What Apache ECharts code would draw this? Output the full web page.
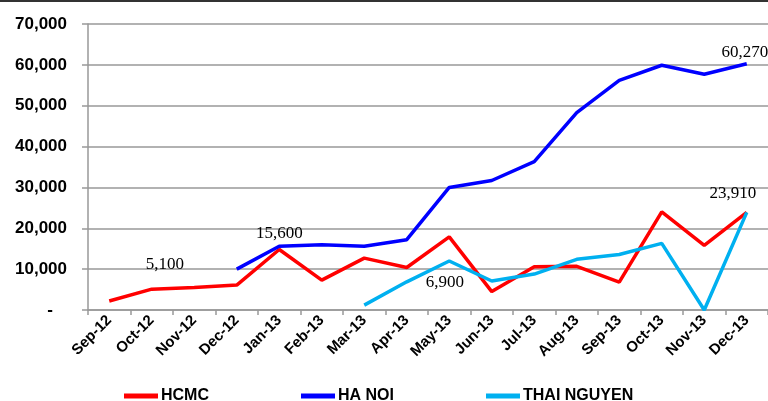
<!DOCTYPE html>
<html><head><meta charset="utf-8">
<script src="https://cdn.jsdelivr.net/npm/echarts@6/dist/echarts.min.js"></script>
<style>html,body{margin:0;padding:0;background:#fff}#c{width:768px;height:401px}</style>
</head><body><div id="c"></div>
<script>
const categories = ['Sep-12','Oct-12','Nov-12','Dec-12','Jan-13','Feb-13','Mar-13','Apr-13','May-13','Jun-13','Jul-13','Aug-13','Sep-13','Oct-13','Nov-13','Dec-13'];
const hcmc = [2200,5100,5500,6100,14800,7300,12700,10400,17900,4500,10600,10700,6800,24000,15800,23910];
const hanoi = [null,null,null,10000,15600,16000,15600,17200,30000,31700,36300,48300,56200,59900,57700,60270];
const thaiNguyen = [null,null,null,null,null,null,1200,6900,12000,7100,8800,12400,13600,16300,0,23900];
const seriesNames = ['HCMC','HA NOI','THAI NGUYEN'];

const labelFont = {fontFamily:'Liberation Serif', fontSize:17, color:'#000'};
function withLabels(values, labelled){
  return values.map((v,i)=>{
    if (labelled[i]) return {value:v, label:Object.assign({show:true, formatter:(p)=>Number(p.value).toLocaleString('en-US')}, labelFont, labelled[i])};
    return v;
  });
}
const legendText = {fontFamily:'Liberation Sans',fontWeight:'bold',fontSize:16,color:'#000'};
function legendAt(name,left){
  return {data:[name],left:left,top:388,padding:0,itemWidth:34,itemHeight:5,itemGap:0,icon:'rect',textStyle:Object.assign({padding:[0,0,0,-2]},legendText)};
}
const chart = echarts.init(document.getElementById('c'));
chart.setOption({
  animation:false,
  grid:{left:88,right:0,top:24,bottom:91},
  graphic:[{type:'rect',shape:{x:0,y:0,width:768,height:2},style:{fill:'#333'}}],
  legend:[legendAt(seriesNames[0],124),legendAt(seriesNames[1],301),legendAt(seriesNames[2],486)],
  xAxis:{
    type:'category',data:categories,boundaryGap:true,
    axisLine:{lineStyle:{color:'#999',width:1.5}},
    axisTick:{show:true,length:5,lineStyle:{color:'#999',width:1.5}},
    axisLabel:{rotate:45,interval:0,margin:8,fontFamily:'Liberation Sans',fontWeight:'bold',fontSize:15,color:'#000'}
  },
  yAxis:{
    type:'value',min:0,max:70000,interval:10000,
    axisLine:{show:true,lineStyle:{color:'#999',width:1.5}},
    axisTick:{show:true,length:6,lineStyle:{color:'#999',width:1.5}},
    splitLine:{lineStyle:{color:'#999',width:1.5}},
    axisLabel:{margin:21,fontFamily:'Liberation Sans',fontWeight:'bold',fontSize:17,color:'#000',
      formatter:(v)=> v===0 ? '-   ' : v.toLocaleString('en-US')}
  },
  series:[
    {name:seriesNames[0],type:'line',symbol:'circle',symbolSize:0,showAllSymbol:true,lineStyle:{width:3.5,color:'#ff0000'},itemStyle:{color:'#ff0000'},
     data:withLabels(hcmc,{1:{position:'top',offset:[13,-11]},15:{position:'top',offset:[-14,-5]}})},
    {name:seriesNames[1],type:'line',symbol:'circle',symbolSize:0,showAllSymbol:true,lineStyle:{width:3.5,color:'#0000ff'},itemStyle:{color:'#0000ff'},
     data:withLabels(hanoi,{4:{position:'top',offset:[0,1]},15:{position:'top',offset:[-2,2]}})},
    {name:seriesNames[2],type:'line',symbol:'circle',symbolSize:0,showAllSymbol:true,lineStyle:{width:3.5,color:'#00b0f0'},itemStyle:{color:'#00b0f0'},
     data:withLabels(thaiNguyen,{7:{position:'right',offset:[14,1]}})}
  ]
});
</script></body></html>
